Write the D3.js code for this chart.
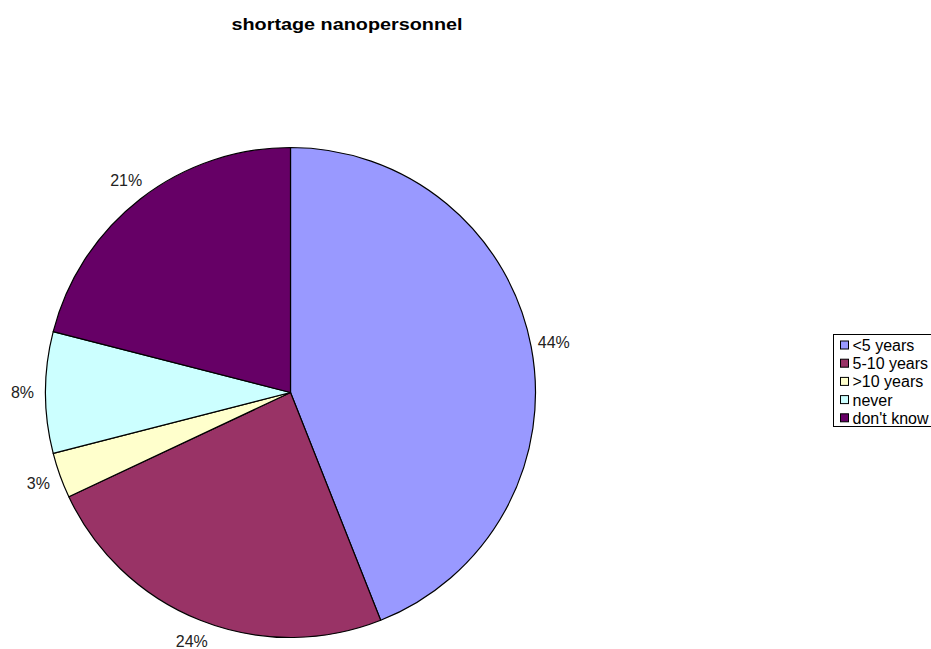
<!DOCTYPE html>
<html>
<head>
<meta charset="utf-8">
<script src="https://cdn.jsdelivr.net/npm/d3@7"></script>
<style>
  body { margin: 0; background: #fff; }
  svg { display: block; font-family: Arial, "Liberation Sans", sans-serif; }
</style>
</head>
<body>
<svg id="chart" width="931" height="649"></svg>
<script>
const categories = ["<5 years", "5-10 years", ">10 years", "never", "don't know"];
const values = [44, 24, 3, 8, 21];
const colors = ["#9999FF", "#993366", "#FFFFCC", "#CCFFFF", "#660066"];
const title = "shortage nanopersonnel";

const svg = d3.select("#chart");
const cx = 290.5, cy = 392.5, r = 245;

svg.append("text")
  .attr("x", 347).attr("y", 30)
  .attr("text-anchor", "middle")
  .attr("font-weight", "bold")
  .attr("font-size", 17)
  .attr("textLength", 231)
  .attr("lengthAdjust", "spacingAndGlyphs")
  .attr("fill", "#000")
  .text(title);

const data = categories.map((c, i) => ({ cat: c, value: values[i], color: colors[i] }));
const pie = d3.pie().value(d => d.value).sort(null);
const arcs = pie(data);
const arc = d3.arc().innerRadius(0).outerRadius(r);
const labelArc = d3.arc().innerRadius(268).outerRadius(268);
const total = d3.sum(values);

const g = svg.append("g").attr("transform", `translate(${cx},${cy})`);
g.selectAll("path.slice").data(arcs).enter().append("path")
  .attr("class", "slice")
  .attr("d", arc)
  .attr("fill", d => d.data.color)
  .attr("stroke", "#000")
  .attr("stroke-width", 1.2)
  .attr("stroke-linejoin", "round");

g.selectAll("text.lbl").data(arcs).enter().append("text")
  .attr("class", "lbl")
  .attr("transform", d => `translate(${labelArc.centroid(d)})`)
  .attr("text-anchor", "middle")
  .attr("dominant-baseline", "central")
  .attr("font-size", 16)
  .attr("fill", "#222")
  .text(d => Math.round(d.data.value / total * 100) + "%");

// Legend
const lx = 833.5, ly = 334.5, lw = 120, lh = 92, step = 18.2;
const leg = svg.append("g");
leg.append("rect")
  .attr("x", lx).attr("y", ly).attr("width", lw).attr("height", lh)
  .attr("fill", "#fff").attr("stroke", "#000").attr("stroke-width", 1);
const items = leg.selectAll("g.item").data(data).enter().append("g")
  .attr("class", "item")
  .attr("transform", (d, i) => `translate(${lx + 7},${ly + 10.5 + i * step})`);
items.append("rect")
  .attr("x", 0).attr("y", -4).attr("width", 8).attr("height", 8)
  .attr("fill", d => d.color).attr("stroke", "#000").attr("stroke-width", 1);
items.append("text")
  .attr("x", 12).attr("y", 0.5)
  .attr("dominant-baseline", "central")
  .attr("font-size", 16)
  .attr("fill", "#000")
  .text(d => d.cat);
</script>
</body>
</html>
